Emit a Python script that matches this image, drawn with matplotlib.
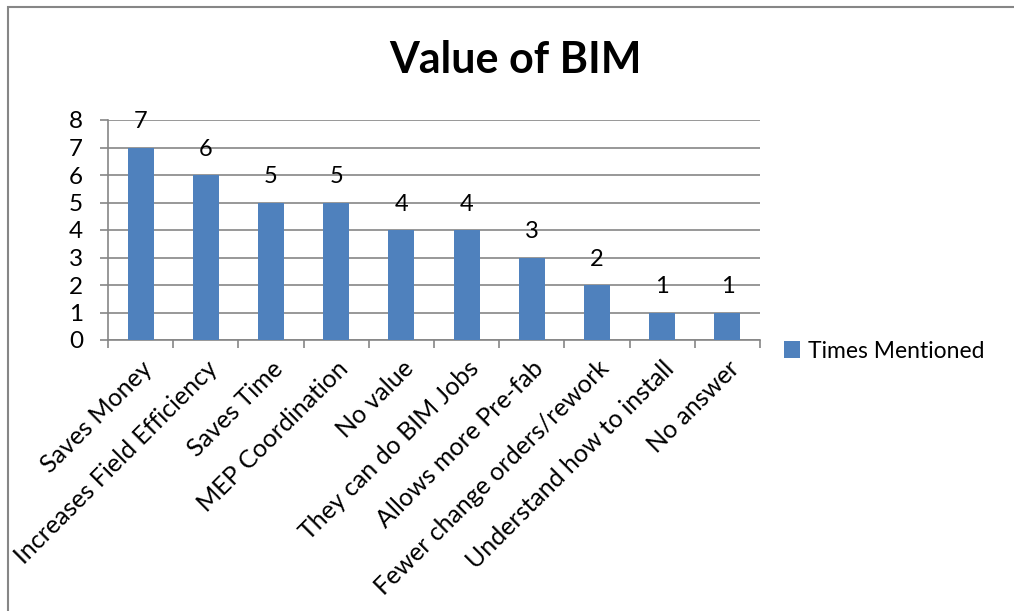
import matplotlib
matplotlib.use("Agg")
import matplotlib.pyplot as plt
from matplotlib.patches import Rectangle

categories = ["Saves Money", "Increases Field Efficiency", "Saves Time", "MEP Coordination",
              "No value", "They can do BIM Jobs", "Allows more Pre-fab",
              "Fewer change orders/rework", "Understand how to install", "No answer"]
times_mentioned = [7, 6, 5, 5, 4, 4, 3, 2, 1, 1]
yticks = [0, 1, 2, 3, 4, 5, 6, 7, 8]

plt.rcParams['font.family'] = ['Lato', 'DejaVu Sans']
blue = "#4F81BD"
grid = "#868686"

fig = plt.figure(figsize=(10.14, 6.11), dpi=100)
ax = fig.add_axes([108/1014, 1-340/611, (760-108)/1014, (340-120)/611])

x = list(range(len(categories)))
bars = ax.bar(x, times_mentioned, width=0.4, color=blue, zorder=3, label="Times Mentioned")
for xi, v in zip(x, times_mentioned):
    ax.annotate(str(v), (xi, v), xytext=(0, 14), textcoords='offset points',
                ha='center', va='baseline', fontsize=17, zorder=4)

ax.set_xlim(-0.5, len(categories) - 0.5)
ax.set_ylim(0, 8)
ax.set_yticks(yticks)
ax.tick_params(axis='y', labelsize=17.5, length=6, color=grid, width=1.2, pad=12)
ax.yaxis.grid(True, color=grid, lw=1.2, zorder=0)

ax.set_xticks(x)
ax.set_xticklabels(categories, rotation=45, ha='right', rotation_mode='anchor', fontsize=18)
ax.tick_params(axis='x', length=0, pad=12)
ax.set_xticks([i - 0.5 for i in range(len(categories) + 1)], minor=True)
ax.tick_params(axis='x', which='minor', length=6, color=grid, width=1.2)

for s in ['top', 'right']:
    ax.spines[s].set_visible(False)
for s in ['left', 'bottom']:
    ax.spines[s].set_color(grid)
    ax.spines[s].set_linewidth(1.2)

fig.text(0.508, 1-60/611, "Value of BIM", ha='center', va='center', fontsize=31, fontweight='bold')

fig.legend(handles=[bars], loc='center left', bbox_to_anchor=(784/1014, 1-351/611),
           frameon=False, fontsize=16.5, handlelength=0.7, handleheight=0.7,
           handletextpad=0.35, borderpad=0, borderaxespad=0)

fig.patches.append(Rectangle((8/1014, -0.1), 1.2, 1.1 - 7/611, transform=fig.transFigure,
                             fill=False, edgecolor=grid, lw=1.5))

fig.savefig("out.png", dpi=100)
